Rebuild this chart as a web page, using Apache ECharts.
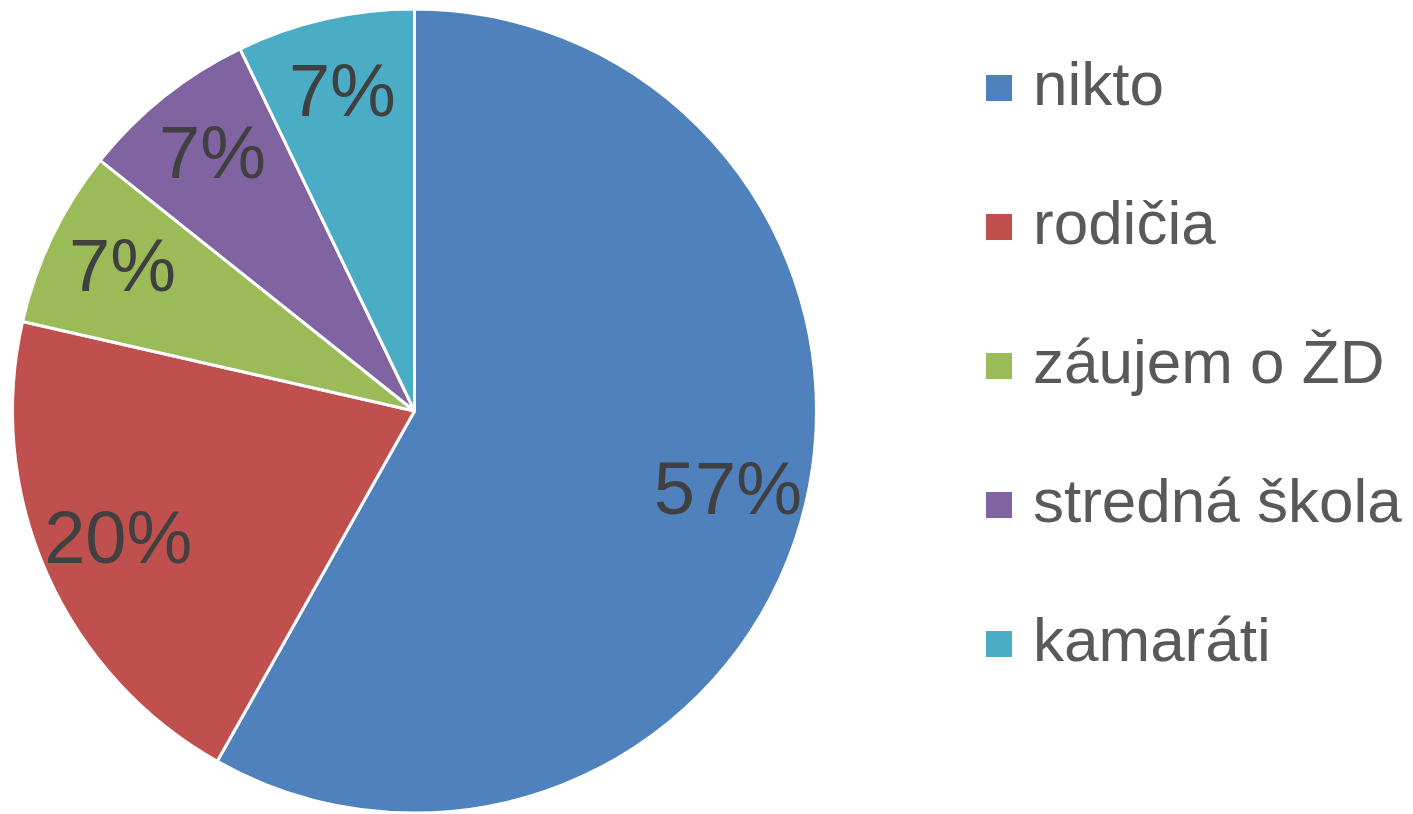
<!DOCTYPE html>
<html>
<head>
<meta charset="utf-8">
<script src="https://cdn.jsdelivr.net/npm/echarts@6/dist/echarts.min.js"></script>
<style>
html,body{margin:0;padding:0;background:#fff;}
#chart{width:1413px;height:814px;}
</style>
</head>
<body>
<div id="chart"></div>
<script>
const categories = ['nikto', 'rodičia', 'záujem o ŽD', 'stredná škola', 'kamaráti'];
const values = [57, 20, 7, 7, 7];
const colors = ['#4F81BD', '#C0504D', '#9BBB59', '#8064A2', '#4BACC6'];

const pieData = categories.map((n, i) => ({ name: n, value: values[i], itemStyle: { color: colors[i] } }));

const chart = echarts.init(document.getElementById('chart'), null, { renderer: 'canvas' });
chart.setOption({
  animation: false,
  backgroundColor: '#ffffff',
  legend: {
    orient: 'vertical',
    left: 984,
    top: 57,
    padding: 0,
    data: categories,
    icon: 'rect',
    itemWidth: 28,
    itemHeight: 28,
    itemGap: 77,
    textStyle: {
      fontFamily: 'Liberation Sans, Arial, sans-serif',
      fontSize: 62,
      lineHeight: 62,
      color: '#595959',
      padding: [0, 0, 0, 15]
    },
    selectedMode: false
  },
  series: [
    {
      type: 'pie',
      center: [414.5, 411],
      radius: [0, 402],
      startAngle: 90,
      clockwise: true,
      silent: true,
      data: pieData,
      itemStyle: { borderColor: '#ffffff', borderWidth: 3 },
      label: { show: false },
      labelLine: { show: false }
    },
    {
      type: 'pie',
      center: [414.5, 411],
      radius: [240, 402],
      startAngle: 90,
      clockwise: true,
      silent: true,
      data: categories.map((n, i) => ({ name: n, value: values[i] })),
      itemStyle: { color: 'rgba(0,0,0,0)', borderWidth: 0 },
      label: {
        show: true,
        position: 'inside',
        formatter: '{c}%',
        fontFamily: 'Liberation Sans, Arial, sans-serif',
        fontSize: 74,
        color: '#404040'
      },
      labelLine: { show: false }
    }
  ]
});
</script>
</body>
</html>
